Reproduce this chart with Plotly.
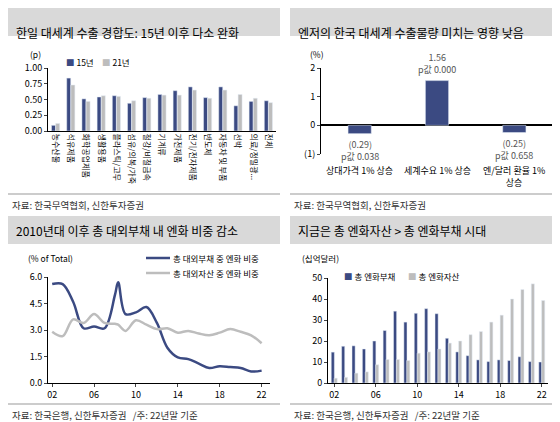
import plotly.graph_objects as go

# panel 1
cats1 = ['농수산물', '석유제품', '화학공업제품', '생활용품', '플라스틱/고무', '섬유/의복/가죽', '철강/비철금속',
         '기계류', '가전제품', '전기/전자제품', '반도체', '자동차 및 부품', '선박', '의료/정밀광...', '전체']
v15 = [0.09, 0.84, 0.51, 0.54, 0.56, 0.44, 0.53, 0.58, 0.64, 0.70, 0.53, 0.70, 0.40, 0.47, 0.48]
v21 = [0.12, 0.73, 0.47, 0.56, 0.55, 0.48, 0.52, 0.57, 0.57, 0.65, 0.52, 0.65, 0.58, 0.52, 0.45]

# panel 2
cats2 = ['상대가격 1% 상승', '세계수요 1% 상승', '엔/달러 환율 1%<br>상승']
eff = [-0.29, 1.56, -0.25]
eff_txt = ['(0.29)<br>p값 0.038', '1.56<br>p값 0.000', '(0.25)<br>p값 0.658']

# panel 3
yr3 = [2002, 2003, 2004, 2005, 2006, 2007, 2008, 2008.3, 2009, 2010, 2011, 2012, 2013, 2014, 2015,
       2016, 2017, 2018, 2019, 2020, 2021, 2022]
liab_share = [5.6, 5.6, 4.6, 3.1, 3.2, 3.1, 5.0, 5.7, 3.9, 4.0, 4.3, 3.4, 2.0, 1.45, 1.35,
              1.1, 0.85, 0.95, 0.9, 0.85, 0.65, 0.7]
asset_share = [2.9, 2.65, 3.6, 3.4, 3.9, 3.4, 3.35, 3.3, 2.95, 3.55, 3.3, 3.05, 3.1, 2.85, 2.95,
               2.8, 2.7, 2.85, 3.05, 2.9, 2.7, 2.25]

# panel 4
yr4 = list(range(2002, 2023))
liab = [14.7, 17.5, 17.7, 16.2, 20, 25, 34.2, 29, 33.2, 35.4, 33, 21.3, 14.8, 13, 11, 10.2, 11, 10.7, 12.5, 10.2, 10]
asset = [2.3, 2.7, 4.7, 5.3, 8.7, 11.2, 11.2, 10.7, 14.2, 14.8, 16.2, 19, 20, 23, 24.5, 29, 32.3, 40, 44.5, 47.2, 39.3]

NAVY = '#3b4a82'
GRAY = '#bdbdbd'
F = 'Noto Sans CJK KR'

fig = go.Figure()
fig.add_bar(x=cats1, y=v15, name='15년', marker_color=NAVY, xaxis='x', yaxis='y')
fig.add_bar(x=cats1, y=v21, name='21년', marker_color=GRAY, xaxis='x', yaxis='y')
fig.add_bar(x=cats2, y=eff, marker_color=NAVY, width=0.3, xaxis='x2', yaxis='y2', showlegend=False)
fig.add_scatter(x=yr3, y=liab_share, mode='lines', line=dict(color=NAVY, width=2.5, shape='spline'),
                name='총 대외부채 중 엔화 비중', xaxis='x3', yaxis='y3')
fig.add_scatter(x=yr3, y=asset_share, mode='lines', line=dict(color=GRAY, width=2.5, shape='spline'),
                name='총 대외자산 중 엔화 비중', xaxis='x3', yaxis='y3')
fig.add_bar(x=yr4, y=liab, name='총 엔화부채', marker_color=NAVY, xaxis='x4', yaxis='y4')
fig.add_bar(x=yr4, y=asset, name='총 엔화자산', marker_color=GRAY, xaxis='x4', yaxis='y4')

def py(px):
    return 1 - px / 422

ax = dict(showgrid=False, zeroline=False, showline=True, linecolor='black', ticks='outside',
          ticklen=3, tickfont=dict(size=9), automargin=False)
fig.update_layout(
    width=560, height=422, margin=dict(l=0, r=0, t=0, b=0, autoexpand=False),
    plot_bgcolor='white', paper_bgcolor='white', font=dict(family=F, size=9, color='black'),
    barmode='group', bargap=0.45, bargroupgap=0.05, showlegend=False,
    xaxis=dict(ax, domain=[40/560, 268/560], anchor='y', tickangle=90, ticks='', tickfont=dict(size=8)),
    yaxis=dict(ax, domain=[py(123), py(60)], anchor='x', range=[0, 1], dtick=0.25, tickformat='.2f'),
    xaxis2=dict(ax, domain=[313/560, 545/560], anchor='y2', showline=False, ticks='', showticklabels=False),
    yaxis2=dict(ax, domain=[py(146), py(60)], anchor='x2', range=[-1, 2], dtick=1, zeroline=True,
                zerolinecolor='black', tickvals=[-1, 0, 1, 2], ticktext=['(1)', '0', '1', '2']),
    xaxis3=dict(ax, domain=[40/560, 262/560], anchor='y3', range=[2001.6, 2022.8],
                tickvals=[2002, 2006, 2010, 2014, 2018, 2022], ticktext=['02', '06', '10', '14', '18', '22']),
    yaxis3=dict(ax, domain=[py(375), py(269)], anchor='x3', range=[0, 6], dtick=1.5, tickformat='.1f'),
    xaxis4=dict(ax, domain=[320/560, 540/560], anchor='y4', range=[2001.4, 2022.6],
                tickvals=[2002, 2006, 2010, 2014, 2018, 2022], ticktext=['02', '06', '10', '14', '18', '22']),
    yaxis4=dict(ax, domain=[py(375), py(270)], anchor='x4', range=[0, 50], dtick=10),
)
fig.update_traces(selector=dict(xaxis='x4'), width=0.3)

for i, t in enumerate(eff_txt):
    fig.add_annotation(x=cats2[i], y=eff[i], xref='x2', yref='y2', text=t, showarrow=False,
                       yanchor='top' if eff[i] < 0 else 'bottom', yshift=-2 if eff[i] < 0 else 3,
                       font=dict(size=9, color='#555'))
    fig.add_annotation(x=cats2[i], y=py(154), xref='x2', yref='paper', text=cats2[i], showarrow=False,
                       yanchor='top', font=dict(size=9))

bands = [(0, 272, 0, 28, '한일 대세계 수출 경합도: 15년 이후 다소 완화'),
         (282, 560, 0, 28, '엔저의 한국 대세계 수출물량 미치는 영향 낮음'),
         (0, 272, 208, 236, '2010년대 이후 총 대외부채 내 엔화 비중 감소'),
         (282, 560, 208, 236, '지금은 총 엔화자산 > 총 엔화부채 시대')]
for x0, x1, y0, y1, t in bands:
    fig.add_shape(type='rect', xref='paper', yref='paper', x0=x0/560, x1=x1/560, y0=py(y1), y1=py(y0),
                  fillcolor='#d9d9d9', line_width=0, layer='below')
    fig.add_annotation(x=(x0+6)/560, y=py((y0+y1)/2), xref='paper', yref='paper', text=t, showarrow=False,
                       xanchor='left', font=dict(size=12, color='black'))

for x0, x1, y, t in [(0, 272, 186, '자료: 한국무역협회, 신한투자증권'),
                     (282, 560, 186, '자료: 한국무역협회, 신한투자증권'),
                     (0, 272, 396, '자료: 한국은행, 신한투자증권   /주: 22년말 기준'),
                     (282, 560, 396, '자료: 한국은행, 신한투자증권   /주: 22년말 기준')]:
    fig.add_shape(type='line', xref='paper', yref='paper', x0=x0/560, x1=x1/560, y0=py(y), y1=py(y),
                  line=dict(color='#999', width=1))
    fig.add_annotation(x=(x0+2)/560, y=py(y+2), xref='paper', yref='paper', text=t, showarrow=False,
                       xanchor='left', yanchor='top', font=dict(size=9.5, color='#333'))

units = [(20, 38, '(p)'), (300, 38, '(%)'), (18, 250, '(% of Total)'), (292, 250, '(십억달러)')]
for x, y, t in units:
    fig.add_annotation(x=x/560, y=py(y), xref='paper', yref='paper', text=t, showarrow=False,
                       xanchor='left', font=dict(size=8.5))

# legends as annotations
leg = [(56, 46, '■', NAVY, '15년'), (92, 46, '■', GRAY, '21년'),
       (334, 268, '■', NAVY, '총 엔화부채'), (398, 268, '■', GRAY, '총 엔화자산')]
for x, y, m, c, t in leg:
    fig.add_annotation(x=x/560, y=py(y), xref='paper', yref='paper', showarrow=False, xanchor='left',
                       text=f"<span style='color:{c}'>{m}</span> {t}", font=dict(size=8.5))
for y, c, t in [(250, NAVY, '총 대외부채 중 엔화 비중'), (265, GRAY, '총 대외자산 중 엔화 비중')]:
    fig.add_shape(type='line', xref='paper', yref='paper', x0=138/560, x1=162/560, y0=py(y), y1=py(y),
                  line=dict(color=c, width=2.5))
    fig.add_annotation(x=163/560, y=py(y), xref='paper', yref='paper', showarrow=False, xanchor='left',
                       text=t, font=dict(size=8.5))

fig.write_html("out.html")
